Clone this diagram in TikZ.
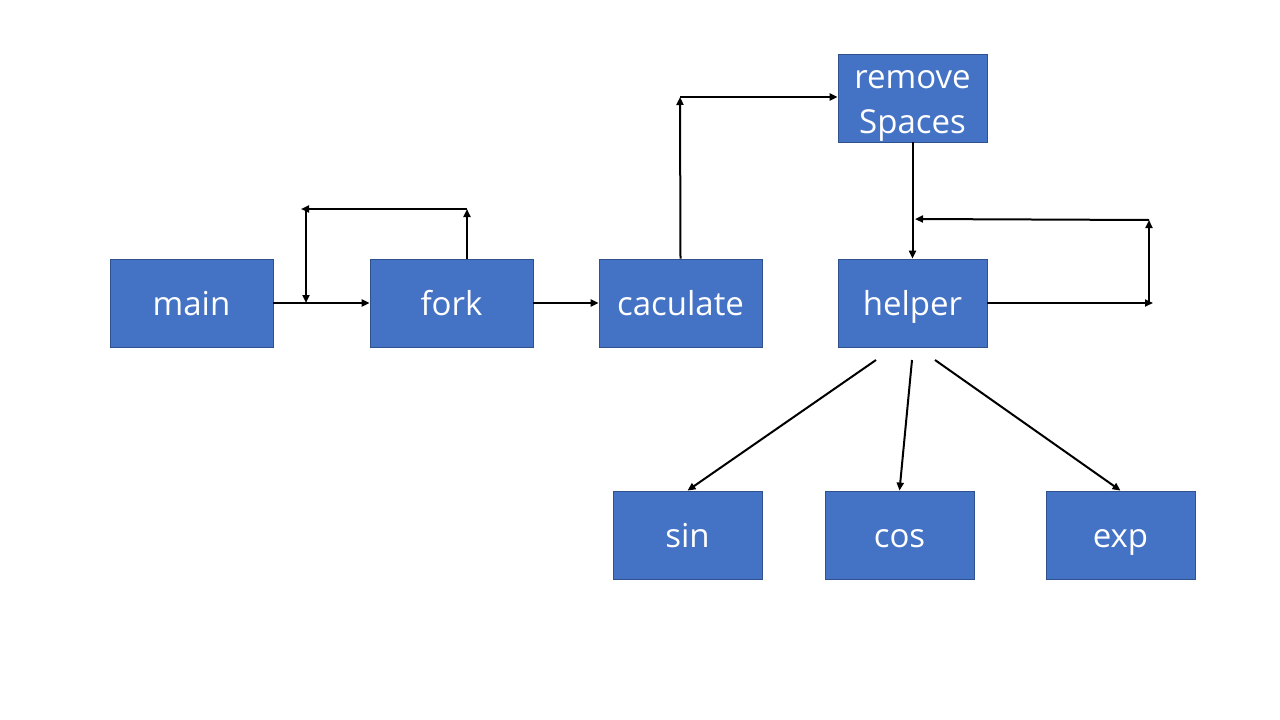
\documentclass[tikz,border=0pt]{standalone}
\usepackage{fontspec}
\setmainfont{Open Sans}
\usetikzlibrary{arrows.meta}
\definecolor{boxfill}{HTML}{4472C4}
\definecolor{boxline}{HTML}{2F528F}
\tikzset{
  blk/.style={draw=boxline, line width=0.8pt, fill=boxfill, text=white, inner sep=0pt, font=\fontsize{33}{45}\selectfont, align=center, text height=26pt, text depth=2pt},
  lbl/.style={text=white, inner sep=0pt, font=\fontsize{33}{45}\selectfont, align=center},
  arr/.style={draw=black, line width=2pt, -{Triangle[length=8pt,width=7pt]}},
}
\begin{document}
\begin{tikzpicture}[x=1pt,y=-1pt]
\useasboundingbox (0,0) rectangle (1280,720);
\node[blk, minimum width=163pt, minimum height=88pt] (main) at (191.5,303) {main};
\node[blk, minimum width=163pt, minimum height=88pt] (fork) at (451.5,303) {fork};
\node[blk, minimum width=163pt, minimum height=88pt] (calc) at (680.5,303) {caculate};
\node[blk, minimum width=149pt, minimum height=88pt] (helper) at (912.5,303) {helper};
\node[blk, minimum width=149pt, minimum height=88pt] (rs) at (912.5,98) {};
\node[lbl] (rstext) at (912.5,106) {remove\\Spaces};
\node[blk, minimum width=149pt, minimum height=88pt] (sin) at (687.5,535) {sin};
\node[blk, minimum width=149pt, minimum height=88pt] (cos) at (899.5,535) {cos};
\node[blk, minimum width=149pt, minimum height=88pt] (exp) at (1120.5,535) {exp};
\coordinate (f1) at (467,209);
\coordinate (f2) at (301,209);
\coordinate (f3) at (306,209);
\coordinate (f4) at (306,303);
\coordinate (c1) at (680,97);
\coordinate (h1) at (1153,303);
\coordinate (h2) at (1149,303);
\coordinate (h3) at (1149,220);
\coordinate (h4) at (915,219);
\coordinate (s0) at (876,360);
\coordinate (s1) at (912,360);
\coordinate (s2) at (935,360);
\draw[arr] (main.east) -- (fork.west);
\draw[arr] (fork.north -| f1) -- (f1);
\draw[arr] (f1) -- (f2);
\draw[arr] (f3) -- (f4);
\draw[arr] (fork.east) -- (calc.west);
\draw[arr] (calc.north) -- (c1);
\draw[arr] (c1) -- (rs.west |- c1);
\draw[arr] (rs.south) -- (helper.north);
\draw[arr] (helper.east) -- (h1);
\draw[arr] (h2) -- (h3);
\draw[arr] (h3) -- (h4);
\draw[arr] (s0) -- (sin.north);
\draw[arr] (s1) -- (cos.north);
\draw[arr] (s2) -- (exp.north);
\end{tikzpicture}
\end{document}
